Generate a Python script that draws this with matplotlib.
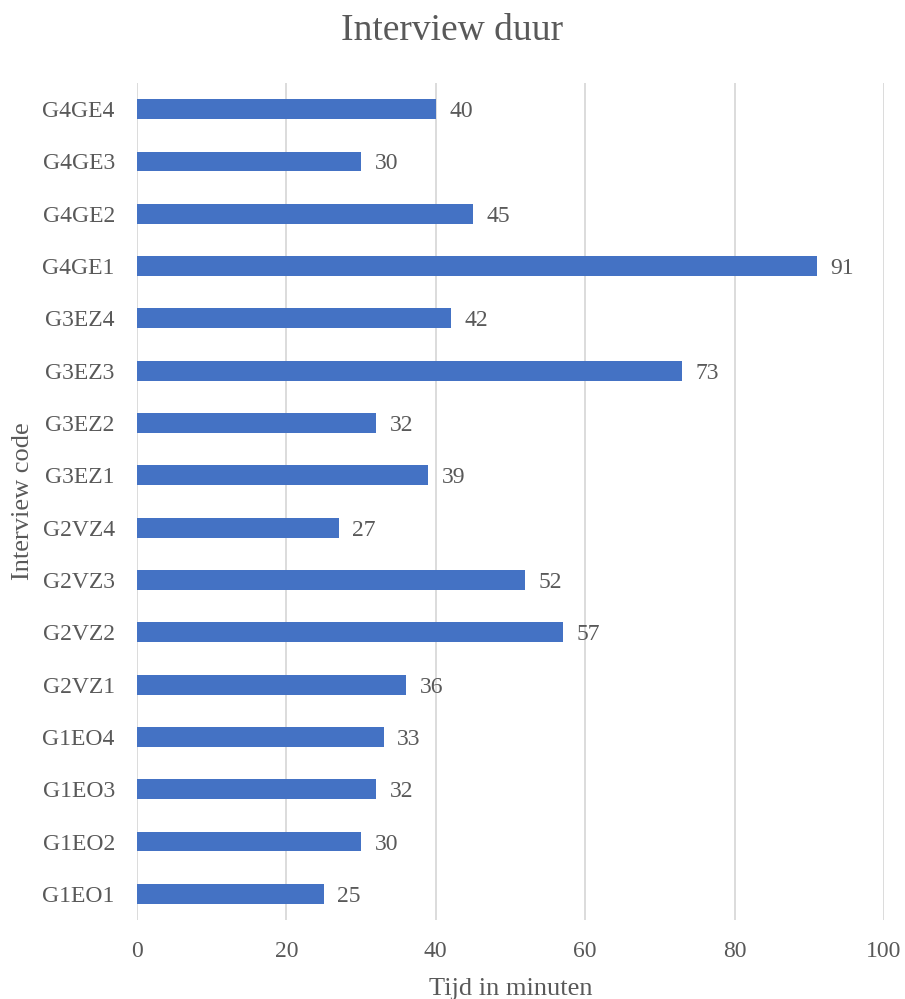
import matplotlib.pyplot as plt

# Interview codes (bottom to top) and duration in minutes
codes = ['G1EO1', 'G1EO2', 'G1EO3', 'G1EO4',
         'G2VZ1', 'G2VZ2', 'G2VZ3', 'G2VZ4',
         'G3EZ1', 'G3EZ2', 'G3EZ3', 'G3EZ4',
         'G4GE1', 'G4GE2', 'G4GE3', 'G4GE4']
minutes = [25, 30, 32, 33, 36, 57, 52, 27, 39, 32, 73, 42, 91, 45, 30, 40]
x_ticks = [0, 20, 40, 60, 80, 100]

text_col = '#595959'
plt.rcParams['font.family'] = ['Liberation Serif', 'DejaVu Serif']

fig = plt.figure(figsize=(9.05, 9.99), dpi=100)
ax = fig.add_axes([0.1514, 0.0791, 0.8254, 0.8378])

bars = ax.barh(codes, minutes, height=0.38, color='#4472C4', zorder=3)
for rect, val in zip(bars, minutes):
    ax.text(rect.get_width() + 1.8, rect.get_y() + rect.get_height() / 2, str(val),
            va='center_baseline', ha='left', fontsize=17, color=text_col)

ax.set_xlim(0, 100)
ax.set_ylim(-0.5, len(codes) - 0.5)
ax.set_xticks(x_ticks)
ax.grid(axis='x', color='#D9D9D9', linewidth=1.3, zorder=0)
for s in ax.spines.values():
    s.set_visible(False)
ax.tick_params(length=0, labelsize=17, labelcolor=text_col)
ax.tick_params(axis='y', pad=16)
ax.tick_params(axis='x', pad=15)

fig.suptitle('Interview duur', fontsize=27, color=text_col, x=0.5, y=0.986, va='top')
ax.set_xlabel('Tijd in minuten', fontsize=19, color=text_col, labelpad=12)
ax.set_ylabel('Interview code', fontsize=19, color=text_col, labelpad=6)

fig.savefig('out.png', dpi=100)
